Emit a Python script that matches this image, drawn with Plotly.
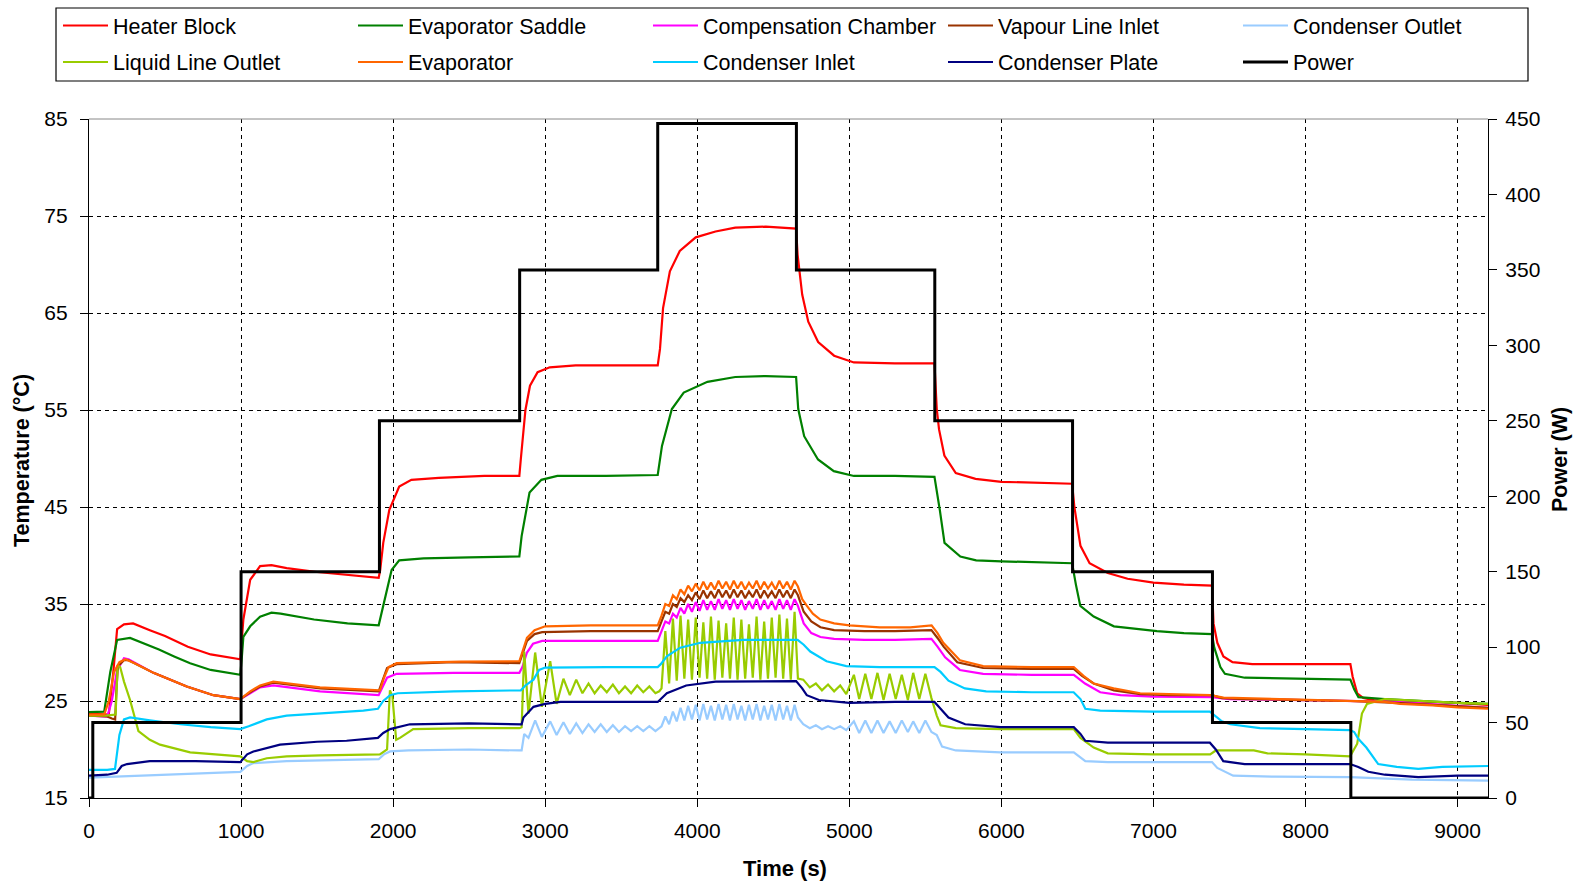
import plotly.graph_objects as go

FONT = "Liberation Sans, Arial, sans-serif"

# ---------------- axes ----------------
X_TICKS = [0, 1000, 2000, 3000, 4000, 5000, 6000, 7000, 8000, 9000]
TEMP_TICKS = [15, 25, 35, 45, 55, 65, 75, 85]
POWER_TICKS = [0, 50, 100, 150, 200, 250, 300, 350, 400, 450]

# ---------------- power (step changes) ----------------
POWER_T = [0, 25, 1000, 1910, 2832, 3740, 4652, 5562, 6468, 7388, 8298, 9200]
POWER_W = [0, 50, 150, 250, 350, 447, 350, 250, 150, 50, 0, 0]

# ---------------- sample times of the oscillating phases ----------------
OSC350_T = [2845, 2862, 2890, 2934, 2978, 3033, 3075, 3120, 3162, 3204, 3245, 3285,
            3325, 3365, 3405, 3445, 3485, 3525, 3565, 3605, 3645, 3685, 3725, 3750]
OSC450_T = [3765, 3790, 3815, 3840, 3865, 3890, 3915, 3940, 3965, 3990, 4015, 4040,
            4065, 4090, 4115, 4140, 4165, 4190, 4215, 4240, 4265, 4290, 4315, 4340,
            4365, 4390, 4415, 4440, 4465, 4490, 4515, 4540, 4565, 4590, 4615, 4640, 4662]
OSCFALL_T = [4697, 4740, 4780, 4820, 4860, 4900, 4940, 4980, 5030, 5065, 5105, 5145,
             5185, 5225, 5265, 5305, 5345, 5385, 5420, 5460, 5500, 5540, 5575]

# ---------------- temperatures (time s, °C) ----------------
HEATER = [(0, 23.7), (130, 23.6), (160, 28.0), (185, 32.4), (230, 32.9), (290, 33.0), (400, 32.3),
          (500, 31.7), (650, 30.6), (800, 29.8), (995, 29.3), (1005, 31.0), (1015, 33.4), (1060, 37.5),
          (1125, 38.9), (1200, 39.0), (1300, 38.7), (1500, 38.3), (1700, 38.0), (1905, 37.7),
          (1915, 38.5), (1935, 41.3), (1975, 44.7), (2040, 47.1), (2120, 47.8), (2300, 48.0),
          (2600, 48.2), (2830, 48.2), (2840, 50.0), (2870, 55.0), (2900, 57.5), (2950, 58.9),
          (3030, 59.4), (3200, 59.6), (3500, 59.6), (3740, 59.6), (3755, 61.3), (3775, 65.5),
          (3820, 69.3), (3885, 71.4), (3990, 72.8), (4120, 73.4), (4250, 73.8), (4450, 73.9),
          (4650, 73.7), (4660, 71.0), (4690, 66.9), (4730, 64.1), (4795, 62.0), (4900, 60.6),
          (5030, 59.9), (5300, 59.8), (5560, 59.8), (5575, 55.1), (5590, 53.0), (5625, 50.3),
          (5700, 48.5), (5830, 47.9), (6000, 47.6), (6200, 47.5), (6465, 47.4), (6480, 45.0),
          (6520, 41.0), (6580, 39.2), (6700, 38.2), (6830, 37.6), (7000, 37.2), (7200, 37.0),
          (7385, 36.9), (7395, 33.0), (7420, 31.0), (7460, 29.6), (7520, 29.0), (7650, 28.8),
          (8000, 28.8), (8295, 28.8), (8310, 27.5), (8340, 25.8), (8380, 25.3), (8450, 25.1),
          (8600, 25.0), (8800, 24.9), (9000, 24.8), (9200, 24.6)]

SADDLE = [(0, 23.85), (100, 23.9), (140, 28.0), (185, 31.3), (270, 31.5), (350, 31.0), (460, 30.3),
          (560, 29.6), (665, 28.9), (800, 28.2), (880, 28.0), (995, 27.7), (1005, 29.5), (1015, 31.6),
          (1060, 32.7), (1125, 33.7), (1200, 34.1), (1260, 34.0), (1480, 33.4), (1700, 33.0),
          (1905, 32.8), (1915, 33.5), (1940, 35.0), (1961, 36.6), (1990, 38.5), (2040, 39.5),
          (2200, 39.7), (2500, 39.8), (2830, 39.9), (2845, 42.0), (2897, 46.5), (2975, 47.8),
          (3080, 48.2), (3400, 48.2), (3740, 48.3), (3768, 51.3), (3833, 55.1), (3911, 56.8),
          (4067, 57.9), (4250, 58.4), (4450, 58.5), (4650, 58.4), (4664, 55.1), (4703, 52.3),
          (4794, 49.9), (4898, 48.7), (5030, 48.2), (5300, 48.2), (5560, 48.1), (5595, 44.7),
          (5626, 41.3), (5730, 39.9), (5834, 39.5), (6000, 39.4), (6250, 39.3), (6465, 39.2),
          (6490, 37.0), (6519, 34.8), (6607, 33.7), (6740, 32.7), (7023, 32.2), (7200, 32.0),
          (7385, 31.9), (7400, 30.5), (7440, 28.5), (7470, 27.8), (7600, 27.4), (7900, 27.3),
          (8295, 27.2), (8320, 26.2), (8348, 25.4), (8522, 25.2), (8742, 25.0), (9000, 24.8),
          (9200, 24.7)]

COMP_PRE = [(0, 23.5), (120, 23.4), (150, 25.0), (185, 28.2), (230, 29.4), (260, 29.3), (424, 27.9),
            (643, 26.5), (818, 25.6), (995, 25.2), (1060, 25.8), (1125, 26.4), (1212, 26.6),
            (1520, 26.0), (1905, 25.6), (1930, 26.5), (1960, 27.4), (2023, 27.8), (2400, 27.9),
            (2830, 27.9), (2850, 28.5), (2880, 30.0), (2920, 30.9), (2980, 31.2), (3400, 31.2),
            (3740, 31.2)]
COMP_450 = [32.2, 33.2, 33.0, 34.0, 33.6, 34.6, 34.0, 35.0, 34.2, 35.2, 34.3, 35.4, 34.4, 35.3,
            34.4, 35.5, 34.5, 35.4, 34.4, 35.5, 34.5, 35.4, 34.4, 35.3, 34.5, 35.5, 34.4, 35.4,
            34.5, 35.3, 34.4, 35.5, 34.5, 35.4, 34.4, 35.5, 34.8]
COMP_POST = [(4700, 33.0), (4750, 32.0), (4810, 31.6), (4900, 31.4), (5100, 31.3), (5300, 31.3),
             (5540, 31.4), (5580, 30.6), (5630, 29.5), (5727, 28.2), (5880, 27.8), (6200, 27.7),
             (6476, 27.7), (6550, 26.8), (6650, 25.9), (6783, 25.6), (7000, 25.45), (7385, 25.4),
             (7500, 25.2), (8000, 25.1), (8600, 24.9), (9200, 24.3)]

VAPOUR_PRE = [(0, 23.5), (120, 23.4), (150, 23.2), (172, 23.1), (180, 26.0), (190, 28.6), (230, 29.2),
              (260, 29.2), (424, 27.9), (643, 26.5), (818, 25.6), (995, 25.2), (1060, 25.9),
              (1125, 26.5), (1212, 26.9), (1520, 26.3), (1905, 26.0), (1930, 27.2), (1960, 28.4),
              (2023, 28.8), (2400, 29.0), (2830, 28.9), (2850, 29.8), (2880, 31.2), (2930, 31.9),
              (2980, 32.1), (3300, 32.2), (3740, 32.2)]
VAPOUR_450 = [33.2, 34.2, 34.0, 35.0, 34.7, 35.6, 35.2, 35.9, 35.4, 36.2, 35.5, 36.4, 35.6, 36.3,
              35.6, 36.5, 35.7, 36.4, 35.6, 36.5, 35.7, 36.4, 35.6, 36.3, 35.7, 36.5, 35.6, 36.4,
              35.7, 36.3, 35.6, 36.5, 35.7, 36.4, 35.6, 36.5, 35.9]
VAPOUR_POST = [(4700, 34.2), (4750, 33.2), (4810, 32.6), (4900, 32.3), (5100, 32.2), (5300, 32.2),
               (5540, 32.3), (5580, 31.5), (5620, 30.6), (5710, 29.0), (5880, 28.4), (6200, 28.3),
               (6476, 28.3), (6530, 27.6), (6607, 26.8), (6740, 26.1), (6913, 25.7), (7100, 25.6),
               (7385, 25.6), (7450, 25.3), (7600, 25.2), (8000, 25.1), (8295, 25.0), (8600, 24.8),
               (9200, 24.3)]

EVAP_PRE = [(0, 23.6), (100, 23.6), (130, 25.0), (165, 28.0), (200, 29.0), (240, 29.3), (300, 28.9),
            (424, 27.9), (643, 26.5), (818, 25.6), (995, 25.2), (1060, 26.0), (1125, 26.6),
            (1212, 27.0), (1519, 26.4), (1913, 26.1), (1940, 27.4), (1970, 28.5), (2023, 28.9),
            (2440, 29.05), (2830, 29.1), (2850, 30.0), (2880, 31.5), (2930, 32.3), (2967, 32.5),
            (3000, 32.7), (3300, 32.8), (3740, 32.8)]
EVAP_450 = [33.8, 35.0, 34.8, 35.9, 35.5, 36.5, 36.0, 36.9, 36.3, 37.1, 36.4, 37.3, 36.5, 37.2,
            36.5, 37.4, 36.6, 37.3, 36.5, 37.4, 36.6, 37.3, 36.5, 37.2, 36.6, 37.4, 36.5, 37.3,
            36.6, 37.2, 36.5, 37.4, 36.6, 37.3, 36.5, 37.4, 36.8]
EVAP_POST = [(4690, 35.5), (4721, 34.8), (4760, 34.0), (4809, 33.4), (4900, 33.0), (5000, 32.8),
             (5200, 32.6), (5400, 32.6), (5541, 32.8), (5580, 32.0), (5618, 31.0), (5727, 29.2),
             (5880, 28.6), (6200, 28.5), (6476, 28.5), (6540, 27.6), (6607, 26.8), (6738, 26.3),
             (6913, 25.8), (7100, 25.7), (7373, 25.6), (7461, 25.35), (7800, 25.2), (8008, 25.1),
             (8293, 25.0), (8522, 24.9), (8621, 24.7), (8836, 24.55), (9000, 24.35), (9200, 24.2)]

COND_OUT_PRE = [(0, 17.1), (182, 17.2), (500, 17.4), (900, 17.6), (995, 17.7), (1040, 18.3),
                (1081, 18.6), (1300, 18.8), (1600, 18.9), (1905, 19.0), (1940, 19.5), (1980, 19.8),
                (2100, 19.9), (2500, 20.0), (2830, 19.9)]
COND_OUT_350 = [19.9, 21.6, 21.2, 23.0, 21.3, 22.9, 21.5, 22.8, 21.6, 22.7, 21.7, 22.6, 21.8, 22.6,
                21.8, 22.5, 21.8, 22.4, 21.9, 22.4, 21.9, 22.4, 21.9, 22.2]
COND_OUT_450 = [22.4, 23.4, 22.6, 23.9, 22.9, 24.3, 23.0, 24.5, 23.1, 24.6, 23.0, 24.7, 23.1, 24.5,
                23.0, 24.7, 23.1, 24.6, 23.0, 24.7, 23.1, 24.5, 23.0, 24.6, 23.1, 24.7, 23.0, 24.5,
                23.1, 24.6, 23.0, 24.7, 23.1, 24.5, 23.0, 24.6, 23.3]
COND_OUT_FALL = [22.6, 22.2, 22.5, 22.1, 22.4, 22.1, 22.4, 22.0, 22.9, 21.7, 23.0, 21.7, 23.0, 21.7,
                 22.9, 21.7, 23.0, 21.8, 22.9, 21.7, 23.0, 21.8, 21.5]
COND_OUT_POST = [(5610, 20.3), (5700, 19.9), (5994, 19.7), (6476, 19.7), (6552, 18.8), (6700, 18.7),
                 (7000, 18.7), (7385, 18.7), (7420, 18.1), (7524, 17.3), (7800, 17.2), (8293, 17.15),
                 (8700, 16.9), (9200, 16.8)]

LIQ_PRE = [(0, 23.5), (110, 23.5), (175, 23.6), (188, 28.7), (205, 28.5), (230, 27.0), (270, 25.1),
           (325, 21.9), (400, 21.0), (467, 20.5), (665, 19.7), (995, 19.3), (1040, 18.8), (1081, 18.7),
           (1169, 19.1), (1300, 19.3), (1519, 19.4), (1913, 19.5), (1960, 20.0), (1979, 26.1),
           (1995, 25.5), (2020, 21.0), (2045, 21.2), (2132, 22.1), (2500, 22.2), (2830, 22.2)]
LIQ_350 = [22.3, 30.1, 23.7, 30.0, 24.4, 29.1, 24.7, 27.3, 25.6, 27.2, 25.8, 26.8, 25.8, 26.6,
           25.9, 26.7, 25.8, 26.5, 25.8, 26.6, 25.9, 26.5, 25.8, 26.0]
LIQ_450 = [26.3, 32.2, 26.8, 33.5, 27.1, 33.8, 27.3, 33.4, 27.2, 33.6, 27.4, 33.1, 27.3, 33.7,
           27.2, 33.3, 27.4, 33.0, 27.3, 33.6, 27.2, 33.4, 27.3, 32.9, 27.4, 33.7, 27.2, 33.2,
           27.3, 33.6, 27.4, 33.9, 27.3, 33.5, 27.2, 34.2, 27.3]
LIQ_FALL = [27.2, 26.4, 26.8, 26.1, 26.7, 26.0, 26.6, 25.7, 27.7, 25.2, 27.8, 25.2, 27.9, 25.1,
            27.8, 25.2, 27.7, 25.1, 27.9, 25.2, 27.8, 25.3, 23.5]
LIQ_POST = [(5600, 22.5), (5700, 22.2), (6000, 22.1), (6476, 22.1), (6520, 21.2), (6607, 20.2),
            (6700, 19.6), (7000, 19.5), (7373, 19.5), (7410, 19.9), (7450, 19.9), (7660, 19.9),
            (7750, 19.6), (8000, 19.5), (8293, 19.3), (8340, 20.6), (8371, 23.7), (8404, 24.7),
            (8522, 25.2), (8742, 25.0), (9000, 24.8), (9200, 24.7)]

COND_IN = [(0, 17.9), (120, 17.9), (171, 18.0), (200, 21.5), (230, 23.1), (270, 23.3), (400, 23.0),
           (600, 22.6), (800, 22.3), (995, 22.1), (1050, 22.4), (1169, 23.1), (1300, 23.5),
           (1500, 23.7), (1804, 24.0), (1900, 24.2), (1935, 25.0), (1980, 25.6), (2030, 25.8),
           (2400, 26.0), (2840, 26.1), (2870, 26.6), (2923, 27.2), (2960, 28.2), (3000, 28.45),
           (3400, 28.5), (3740, 28.5), (3760, 28.8), (3800, 29.6), (3888, 30.5), (4020, 31.0),
           (4300, 31.3), (4660, 31.3), (4700, 30.8), (4743, 30.1), (4850, 29.1), (4980, 28.6),
           (5200, 28.5), (5560, 28.5), (5600, 28.0), (5652, 27.1), (5760, 26.3), (5900, 26.0),
           (6200, 25.9), (6475, 25.9), (6520, 25.2), (6552, 24.2), (6650, 24.0), (7000, 23.9),
           (7371, 23.9), (7400, 23.5), (7450, 22.9), (7505, 22.6), (7700, 22.2), (8000, 22.1),
           (8293, 22.0), (8320, 21.8), (8347, 21.1), (8400, 20.2), (8478, 18.5), (8600, 18.2),
           (8742, 18.0), (8900, 18.2), (9200, 18.3)]

PLATE = [(0, 17.3), (120, 17.4), (182, 17.6), (215, 18.3), (250, 18.5), (400, 18.8), (700, 18.8),
         (995, 18.7), (1040, 19.5), (1081, 19.8), (1256, 20.5), (1500, 20.8), (1694, 20.9),
         (1900, 21.2), (1935, 21.7), (1980, 22.1), (2110, 22.6), (2500, 22.7), (2845, 22.6),
         (2857, 23.3), (2923, 24.4), (3000, 24.7), (3100, 24.9), (3400, 24.9), (3740, 24.9),
         (3800, 25.8), (3927, 26.6), (4120, 27.0), (4400, 27.05), (4650, 27.05), (4690, 26.3),
         (4720, 25.6), (4800, 25.1), (5000, 24.8), (5300, 24.9), (5560, 24.9), (5600, 24.2),
         (5652, 23.3), (5762, 22.6), (5994, 22.3), (6476, 22.3), (6520, 21.6), (6552, 20.9),
         (6700, 20.7), (7000, 20.7), (7371, 20.7), (7410, 20.0), (7459, 18.8), (7600, 18.5),
         (8000, 18.5), (8293, 18.5), (8347, 18.2), (8413, 17.7), (8522, 17.4), (8742, 17.15),
         (9000, 17.3), (9200, 17.3)]


def join(*parts):
    """parts: lists of (t, v) pairs, or (times, values) tuples of lists."""
    t, v = [], []
    for p in parts:
        if isinstance(p, tuple):
            times, vals = p
            assert len(times) == len(vals), (len(times), len(vals))
            t += list(times)
            v += list(vals)
        else:
            t += [a for a, _ in p]
            v += [b for _, b in p]
    return t, v


SERIES = [
    # name, colour, (t, v), legend
    ("Heater Block", "#FF0000", join(HEATER), "legend"),
    ("Evaporator Saddle", "#008000", join(SADDLE), "legend"),
    ("Compensation Chamber", "#FF00FF", join(COMP_PRE, (OSC450_T, COMP_450), COMP_POST), "legend"),
    ("Vapour Line Inlet", "#993300", join(VAPOUR_PRE, (OSC450_T, VAPOUR_450), VAPOUR_POST), "legend"),
    ("Condenser Outlet", "#99CCFF", join(COND_OUT_PRE, (OSC350_T, COND_OUT_350), (OSC450_T, COND_OUT_450),
                                         (OSCFALL_T, COND_OUT_FALL), COND_OUT_POST), "legend"),
    ("Liquid Line Outlet", "#99CC00", join(LIQ_PRE, (OSC350_T, LIQ_350), (OSC450_T, LIQ_450),
                                           (OSCFALL_T, LIQ_FALL), LIQ_POST), "legend2"),
    ("Evaporator", "#FF6600", join(EVAP_PRE, (OSC450_T, EVAP_450), EVAP_POST), "legend2"),
    ("Condenser Inlet", "#00CCFF", join(COND_IN), "legend2"),
    ("Condenser Plate", "#000080", join(PLATE), "legend2"),
]

fig = go.Figure()
for name, color, (t, v), lg in SERIES:
    fig.add_trace(go.Scatter(x=t, y=v, name=name, mode="lines", legend=lg,
                             line=dict(color=color, width=2.2)))

fig.add_trace(go.Scatter(x=POWER_T, y=POWER_W, name="Power", mode="lines", yaxis="y2",
                         legend="legend2", line=dict(color="black", width=3, shape="hv")))

# ---------------- layout geometry (pixels) ----------------
W, H = 1587, 883
L, R, T, B = 89, 99, 119, 85
PW, PH = W - L - R, H - T - B


def px_x(px):
    return (px - L) / PW


def px_y(py):
    return (H - B - py) / PH


axis_common = dict(showline=True, linecolor="black", linewidth=1.2, ticks="outside",
                   ticklen=8, tickcolor="black", tickwidth=1.2,
                   tickfont=dict(family=FONT, size=21, color="black"), zeroline=False)

legend_common = dict(orientation="h", xanchor="left", yanchor="middle",
                     entrywidth=235, entrywidthmode="pixels", itemwidth=45,
                     bgcolor="rgba(0,0,0,0)",
                     borderwidth=0, font=dict(family=FONT, size=21.5, color="black"),
                     traceorder="normal", itemclick=False)

fig.update_layout(
    width=W, height=H,
    margin=dict(l=L, r=R, t=T, b=B, pad=0, autoexpand=False),
    paper_bgcolor="white", plot_bgcolor="white",
    font=dict(family=FONT, color="black"),
    xaxis=dict(range=[0, 9200], tickvals=X_TICKS, showgrid=True, gridcolor="black",
               gridwidth=1, griddash="4px,4px", ticklabelstandoff=6, **axis_common),
    yaxis=dict(range=[15, 85], tickvals=TEMP_TICKS, showgrid=True, gridcolor="black",
               gridwidth=1, griddash="4px,4px", ticklabelstandoff=8, **axis_common),
    yaxis2=dict(range=[0, 450], tickvals=POWER_TICKS, overlaying="y", side="right",
                showgrid=False, ticklabelstandoff=4, **axis_common),
    legend=dict(x=px_x(58), y=px_y(25.5), **legend_common),
    legend2=dict(x=px_x(58), y=px_y(62), **legend_common),
    showlegend=True,
)

# legend frame and top border of the plot area
fig.add_shape(type="rect", xref="paper", yref="paper",
              x0=px_x(56), x1=px_x(1528), y0=px_y(81), y1=px_y(8),
              line=dict(color="black", width=1.2), fillcolor="rgba(0,0,0,0)", layer="above")
fig.add_shape(type="line", xref="paper", yref="paper", x0=0, x1=1, y0=1, y1=1,
              line=dict(color="#888888", width=1), layer="above")

title_font = dict(family=FONT, size=22, color="black", weight="bold")
fig.add_annotation(text="Time (s)", xref="paper", yref="paper", x=px_x(785), y=px_y(868),
                   showarrow=False, xanchor="center", yanchor="middle", font=title_font)
fig.add_annotation(text="Temperature (°C)", xref="paper", yref="paper", x=px_x(22), y=px_y(461),
                   showarrow=False, xanchor="center", yanchor="middle", textangle=-90,
                   font=dict(family=FONT, size=21.5, color="black", weight="bold"))
fig.add_annotation(text="Power (W)", xref="paper", yref="paper", x=px_x(1560), y=px_y(460),
                   showarrow=False, xanchor="center", yanchor="middle", textangle=-90,
                   font=dict(family=FONT, size=21.5, color="black", weight="bold"))

fig.write_html("out.html")
